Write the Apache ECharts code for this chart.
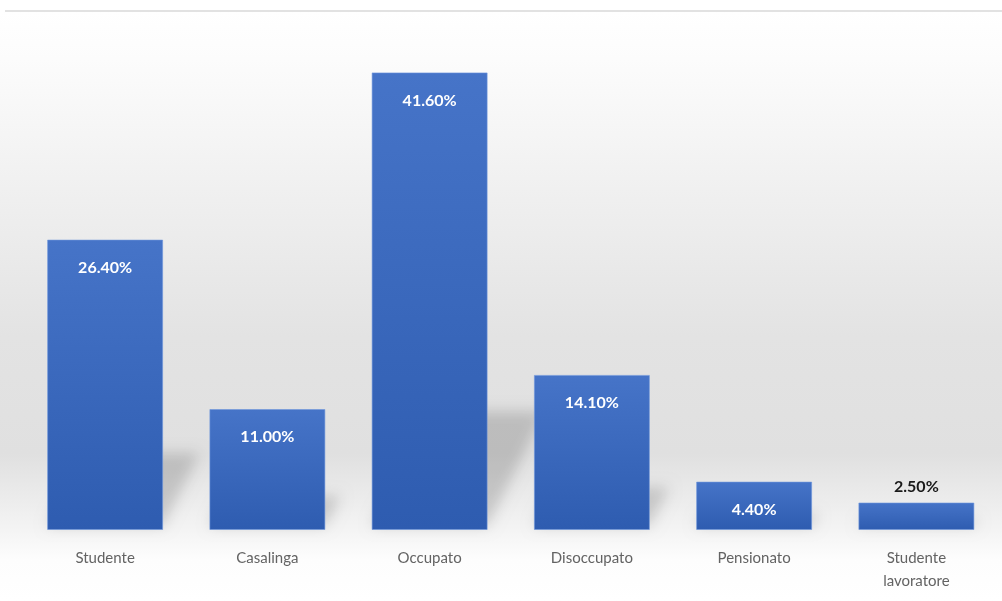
<!DOCTYPE html>
<html>
<head>
<meta charset="utf-8">
<style>
  html, body { margin: 0; padding: 0; background: #ffffff; }
  #chart { width: 1002px; height: 601px; }
</style>
<script src="https://cdn.jsdelivr.net/npm/echarts@6/dist/echarts.min.js"></script>
</head>
<body>
<div id="chart"></div>
<script>
// Condizione professionale (percentuali)
const categories = ['Studente', 'Casalinga', 'Occupato', 'Disoccupato', 'Pensionato', 'Studente\nlavoratore'];
const values = [26.4, 11.0, 41.6, 14.1, 4.4, 2.5];
// labels drawn inside the bar, except where the bar is too short
const insideLabel = [true, true, true, true, true, false];

const chart = echarts.init(document.getElementById('chart'), null, { renderer: 'canvas' });

const BAR_W = 116;
const SHIFT = 3000; // shape drawn off-canvas, only its blurred shadow lands on the plot

function fmt(v) { return v.toFixed(2) + '%'; }

const barData = values.map((v, i) => ({
  value: v,
  label: insideLabel[i]
    ? { position: 'insideTop', distance: 20, color: '#ffffff' }
    : { position: 'top', distance: 8, color: '#1a1a1a' }
}));

// soft floor shadow cast to the right of each bar
function renderShadow(params, api) {
  const idx = api.value(0);
  const v = api.value(1);
  const base = api.coord([idx, 0]);
  const top = api.coord([idx, v]);
  const h = base[1] - top[1];
  const hh = h * 0.25;
  const s = 0.5;
  const xl = base[0] - BAR_W / 2 - SHIFT;
  const xr = base[0] + BAR_W / 2 - SHIFT;
  const y0 = base[1] - 4;
  return {
    type: 'polygon',
    shape: {
      points: [[xl, y0], [xr, y0], [xr + s * hh, y0 - hh], [xl + s * hh, y0 - hh]]
    },
    style: {
      fill: '#000000',
      shadowColor: 'rgba(0,0,0,0.16)',
      shadowBlur: 14,
      shadowOffsetX: SHIFT,
      shadowOffsetY: 0
    }
  };
}

chart.setOption({
  animation: false,
  backgroundColor: 'transparent',
  graphic: [
    {
      type: 'rect',
      z: -10,
      silent: true,
      shape: { x: 0, y: 12, width: 1002, height: 589 },
      style: {
        fill: new echarts.graphic.LinearGradient(0, 0, 0, 1, [
          { offset: 0, color: '#ffffff' },
          { offset: 0.08, color: '#fcfcfc' },
          { offset: 0.3, color: '#f0f0f0' },
          { offset: 0.55, color: '#e3e3e3' },
          { offset: 0.75, color: '#e0e0e0' },
          { offset: 0.88, color: '#f4f4f4' },
          { offset: 0.93, color: '#fdfdfd' },
          { offset: 1, color: '#ffffff' }
        ])
      }
    },
    {
      type: 'line',
      z: -5,
      silent: true,
      shape: { x1: 5, y1: 11, x2: 1002, y2: 11 },
      style: { stroke: '#e2e2e2', lineWidth: 2 }
    }
  ],
  grid: { left: 24, right: 4.5, top: 35, bottom: 71, containLabel: false },
  xAxis: {
    type: 'category',
    data: categories,
    axisLine: { show: false },
    axisTick: { show: false },
    axisLabel: {
      color: '#636363',
      fontFamily: 'Lato, "Open Sans", sans-serif',
      fontSize: 15,
      lineHeight: 23,
      margin: 17,
      interval: 0
    }
  },
  yAxis: {
    type: 'value',
    min: 0,
    max: 45,
    show: false,
    splitLine: { show: false }
  },
  series: [
    {
      type: 'custom',
      renderItem: renderShadow,
      data: values.map((v, i) => [i, v]),
      encode: { x: 0, y: 1 },
      clip: false,
      z: 1,
      silent: true
    },
    {
      type: 'bar',
      data: barData,
      barWidth: BAR_W,
      z: 3,
      itemStyle: {
        color: new echarts.graphic.LinearGradient(0, 0, 0, 1, [
          { offset: 0, color: '#4674c8' },
          { offset: 1, color: '#2e5cb0' }
        ]),
        borderColor: 'rgba(110,150,220,0.6)',
        borderWidth: 1
      },
      label: {
        show: true,
        formatter: p => fmt(p.value),
        fontFamily: 'Lato, "Open Sans", sans-serif',
        fontWeight: 'bold',
        fontSize: 16
      }
    }
  ]
});
</script>
</body>
</html>
